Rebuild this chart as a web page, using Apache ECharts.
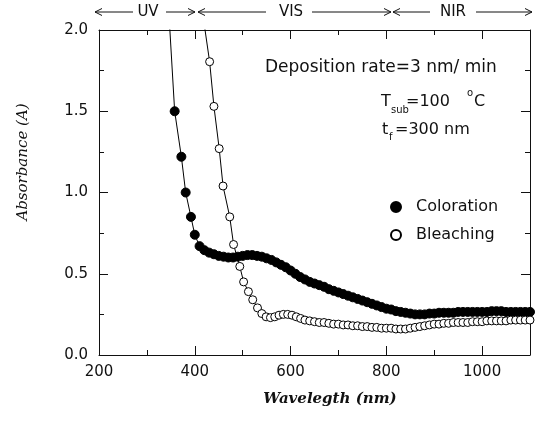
<!DOCTYPE html>
<html>
<head>
<meta charset="utf-8">
<script src="https://cdn.jsdelivr.net/npm/echarts@6/dist/echarts.min.js"></script>
<style>
  html, body { margin: 0; padding: 0; background: #fff; }
  #e1 { width: 536px; height: 423px; }
</style>
</head>
<body>
<div id="e1"></div>
<script>
// coloration (filled circles) - first point is where the line leaves the top of the frame
var waveColor = [346, 358, 372, 381, 392, 400, 410,
    420, 430, 440, 450, 460, 470, 480, 490, 500, 510, 520, 530, 540, 550, 560, 570, 580, 590,
    600, 610, 620, 630, 640, 650, 660, 670, 680, 690, 700, 710, 720, 730, 740, 750, 760, 770,
    780, 790, 800, 810, 820, 830, 840, 850, 860, 870, 880, 890, 900, 910, 920, 930, 940, 950,
    960, 970, 980, 990, 1000, 1010, 1020, 1030, 1040, 1050, 1060, 1070, 1080, 1090, 1100];
var absColor = [2.1, 1.50, 1.22, 1.00, 0.85, 0.74, 0.67,
    0.645, 0.63, 0.62, 0.61, 0.605, 0.60, 0.60, 0.605, 0.61, 0.615, 0.615, 0.61, 0.605, 0.595, 0.585, 0.57, 0.555, 0.54,
    0.52, 0.50, 0.48, 0.465, 0.45, 0.44, 0.43, 0.42, 0.405, 0.395, 0.385, 0.375, 0.365, 0.355, 0.345, 0.335, 0.325, 0.315,
    0.305, 0.295, 0.285, 0.28, 0.27, 0.265, 0.26, 0.255, 0.25, 0.25, 0.25, 0.255, 0.255, 0.26, 0.26, 0.26, 0.26, 0.265,
    0.265, 0.265, 0.265, 0.265, 0.265, 0.265, 0.27, 0.27, 0.27, 0.265, 0.265, 0.265, 0.265, 0.265, 0.265];

// bleaching (open circles)
var waveBleach = [419, 431, 440, 451, 459, 473, 481, 494, 502, 512, 521, 531, 540, 549, 558, 567, 576, 585,
    594, 603, 612, 621, 630, 640, 650, 660, 670, 680, 690, 700, 710, 720, 730, 740, 750, 760, 770, 780,
    790, 800, 810, 820, 830, 840, 850, 860, 870, 880, 890, 900, 910, 920, 930, 940, 950, 960, 970, 980,
    990, 1000, 1010, 1020, 1030, 1040, 1050, 1060, 1070, 1080, 1090, 1100];
var absBleach = [2.05, 1.805, 1.53, 1.27, 1.04, 0.85, 0.68, 0.545, 0.45, 0.39, 0.34, 0.29, 0.255, 0.235, 0.23, 0.235, 0.245, 0.25,
    0.25, 0.245, 0.235, 0.225, 0.215, 0.21, 0.205, 0.20, 0.20, 0.195, 0.19, 0.19, 0.185, 0.185, 0.18, 0.18, 0.175, 0.175, 0.17, 0.17,
    0.165, 0.165, 0.165, 0.16, 0.16, 0.16, 0.165, 0.17, 0.175, 0.18, 0.185, 0.19, 0.19, 0.195, 0.195, 0.20, 0.20, 0.20, 0.20, 0.205,
    0.205, 0.205, 0.21, 0.21, 0.21, 0.21, 0.21, 0.215, 0.215, 0.215, 0.215, 0.215];

var xTickLabels = [200, 400, 600, 800, 1000];
var yTickLabels = ['0.0', '0.5', '1.0', '1.5', '2.0'];

var e1 = echarts.init(document.getElementById('e1'));
var sans = 'DejaVu Sans';
var serif = 'DejaVu Serif';

function toData(xs, ys) {
    var out = [];
    for (var i = 0; i < xs.length; i++) {
        var it = { value: [xs[i], ys[i]] };
        if (i === 0) it.symbol = 'none';
        out.push(it);
    }
    return out;
}

// little open arrow for the UV / VIS / NIR band
function arrow(x1, x2, y, dir) {
    var tip = dir < 0 ? x1 : x2;
    return [{
        type: 'line', shape: { x1: x1, y1: y, x2: x2, y2: y },
        style: { stroke: '#111', lineWidth: 1 }
    }, {
        type: 'polyline',
        shape: { points: [[tip - dir * 7, y - 3.5], [tip, y], [tip - dir * 7, y + 3.5]] },
        style: { stroke: '#111', lineWidth: 1, fill: null }
    }];
}

function txt(x, y, s, size, extra) {
    var st = { text: s, font: (size || 15) + 'px "' + sans + '"', fill: '#111', align: 'left', verticalAlign: 'middle' };
    if (extra) for (var k in extra) st[k] = extra[k];
    return { type: 'text', x: x, y: y, style: st };
}

var graphics = [];
graphics = graphics.concat(arrow(95, 133, 12, -1), arrow(166, 195, 12, 1),
    arrow(198, 266, 12, -1), arrow(312, 391, 12, 1),
    arrow(393, 430, 12, -1), arrow(476, 532, 12, 1));
graphics.push(txt(148, 12, 'UV', 15, { align: 'center' }));
graphics.push(txt(291, 12, 'VIS', 15, { align: 'center' }));
graphics.push(txt(453, 12, 'NIR', 15, { align: 'center' }));

graphics.push(txt(265, 68, 'Deposition rate=3 nm/ min', 17));
graphics.push(txt(381, 102, 'T', 16));
graphics.push(txt(391, 110, 'sub', 10));
graphics.push(txt(406, 102, '=100', 16));
graphics.push(txt(467, 93, 'o', 10));
graphics.push(txt(474, 102, 'C', 16));
graphics.push(txt(382, 130, 't', 16));
graphics.push(txt(389, 137, 'f', 10));
graphics.push(txt(395, 130, '=300 nm', 16));

graphics.push({
    type: 'text', x: 23, y: 162, rotation: Math.PI / 2,
    style: { text: 'Absorbance (A)', font: 'italic 15px "' + serif + '"', fill: '#111', align: 'center', verticalAlign: 'middle' }
});
graphics.push({
    type: 'text', x: 330, y: 399,
    style: { text: 'Wavelegth (nm)', font: 'italic bold 15px "' + serif + '"', fill: '#111', align: 'center', verticalAlign: 'middle' }
});

var gridPos = { left: 99, right: 6, top: 30, bottom: 68 };

var option1 = {
    animation: false,
    backgroundColor: '#fff',
    grid: [
        { left: gridPos.left, right: gridPos.right, top: gridPos.top, bottom: gridPos.bottom },
        { left: gridPos.left, right: gridPos.right, top: gridPos.top, bottom: gridPos.bottom }
    ],
    legend: {
        orient: 'vertical',
        left: 390, top: 199, padding: 0,
        itemWidth: 10, itemHeight: 10, itemGap: 12,
        icon: 'circle',
        textStyle: { fontFamily: sans, fontSize: 16, color: '#111', padding: [0, 0, 0, 10] },
        data: ['Coloration', 'Bleaching']
    },
    xAxis: [{
        gridIndex: 0, type: 'value', position: 'bottom', min: 200, max: 1100, interval: 200,
        axisLine: { show: true, onZero: false, lineStyle: { color: '#111', width: 1 } },
        axisTick: { show: true, inside: true, length: 9, lineStyle: { color: '#111' } },
        axisLabel: {
            margin: 10, fontFamily: sans, fontSize: 15, color: '#111',
            formatter: function (v) { return xTickLabels.indexOf(v) >= 0 ? String(v) : ''; }
        },
        splitLine: { show: false }
    }, {
        gridIndex: 0, type: 'value', position: 'top', min: 200, max: 1100, interval: 200,
        axisLine: { show: true, onZero: false, lineStyle: { color: '#111', width: 1 } },
        axisTick: { show: true, inside: true, length: 9, lineStyle: { color: '#111' } },
        axisLabel: { show: false },
        splitLine: { show: false }
    }, {
        gridIndex: 1, type: 'value', position: 'bottom', min: 200, max: 1100, interval: 100,
        axisLine: { show: false, onZero: false },
        axisTick: { show: true, inside: true, length: 5, lineStyle: { color: '#111' } },
        axisLabel: { show: false },
        splitLine: { show: false }
    }, {
        gridIndex: 1, type: 'value', position: 'top', min: 200, max: 1100, interval: 100,
        axisLine: { show: false, onZero: false },
        axisTick: { show: true, inside: true, length: 5, lineStyle: { color: '#111' } },
        axisLabel: { show: false },
        splitLine: { show: false }
    }],
    yAxis: [{
        gridIndex: 0, type: 'value', position: 'left', min: 0, max: 2, interval: 0.5,
        axisLine: { show: true, onZero: false, lineStyle: { color: '#111', width: 1 } },
        axisTick: { show: true, inside: true, length: 9, lineStyle: { color: '#111' } },
        minorTick: { show: true, splitNumber: 2, length: 5, lineStyle: { color: '#111' } },
        axisLabel: {
            margin: 11, fontFamily: sans, fontSize: 15, color: '#111',
            formatter: function (v) { return yTickLabels[Math.round(v / 0.5)] || ''; }
        },
        splitLine: { show: false }
    }, {
        gridIndex: 0, type: 'value', position: 'right', min: 0, max: 2, interval: 0.5,
        axisLine: { show: true, onZero: false, lineStyle: { color: '#111', width: 1 } },
        axisTick: { show: true, inside: true, length: 9, lineStyle: { color: '#111' } },
        minorTick: { show: true, splitNumber: 2, length: 5, lineStyle: { color: '#111' } },
        axisLabel: { show: false },
        splitLine: { show: false }
    }, {
        gridIndex: 1, type: 'value', min: 0, max: 2, show: false
    }],
    series: [{
        name: 'Coloration', type: 'line',
        xAxisIndex: 0, yAxisIndex: 0,
        data: toData(waveColor, absColor),
        symbol: 'circle', symbolSize: 9,
        itemStyle: { color: '#000', borderColor: '#000', borderWidth: 1 },
        lineStyle: { color: '#000', width: 1 },
        clip: true
    }, {
        name: 'Bleaching', type: 'line',
        xAxisIndex: 0, yAxisIndex: 0,
        data: toData(waveBleach, absBleach),
        symbol: 'circle', symbolSize: 8,
        itemStyle: { color: '#fff', borderColor: '#000', borderWidth: 1 },
        lineStyle: { color: '#000', width: 1 },
        clip: true
    }],
    graphic: graphics
};
e1.setOption(option1);
window.onresize = function () {
    e1.resize();
};
</script>
</body>
</html>
